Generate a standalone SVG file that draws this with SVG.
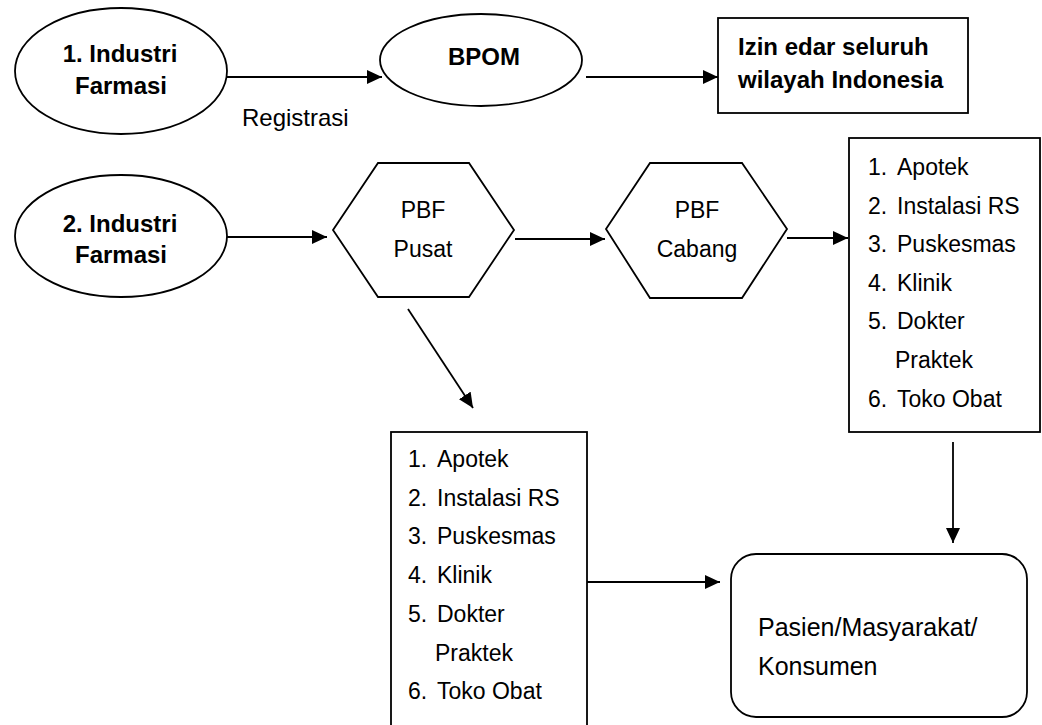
<svg xmlns="http://www.w3.org/2000/svg" width="1042" height="725" viewBox="0 0 1042 725">
<defs>
<style>
.shape{fill:#fff;stroke:#000;stroke-width:1.8}
.line{fill:none;stroke:#000;stroke-width:1.8}
.b{font-family:"Liberation Sans",Arial,sans-serif;font-weight:bold;font-size:24px;fill:#000}
.r{font-family:"Liberation Sans",Arial,sans-serif;font-size:23px;fill:#000}
.m{text-anchor:middle}
</style>
<marker id="ah" markerUnits="userSpaceOnUse" markerWidth="16" markerHeight="14" refX="15" refY="7" orient="auto">
<path d="M0,0 L15,7 L0,14 z" fill="#000"/>
</marker>
</defs>
<rect width="1042" height="725" fill="#fff"/>
<g id="connectors">
<line class="line" x1="227" y1="77" x2="382" y2="77" marker-end="url(#ah)"/>
<line class="line" x1="586" y1="77" x2="718" y2="77" marker-end="url(#ah)"/>
<line class="line" x1="227" y1="237" x2="327" y2="237" marker-end="url(#ah)"/>
<line class="line" x1="515" y1="239" x2="605" y2="239" marker-end="url(#ah)"/>
<line class="line" x1="787" y1="238" x2="848" y2="238" marker-end="url(#ah)"/>
<line class="line" x1="408" y1="309" x2="473" y2="408" marker-end="url(#ah)"/>
<line class="line" x1="587" y1="582" x2="720" y2="582" marker-end="url(#ah)"/>
<line class="line" x1="953" y1="442" x2="953" y2="543" marker-end="url(#ah)"/>
<text class="r" x="242" y="126" style="font-size:24px">Registrasi</text>
</g>
<g id="industri1">
<ellipse class="shape" cx="121" cy="71" rx="106" ry="63"/>
<text class="b m" x="120" y="62">1. Industri</text>
<text class="b m" x="121" y="94">Farmasi</text>
</g>
<g id="bpom">
<ellipse class="shape" cx="481" cy="60" rx="101" ry="46"/>
<text class="b m" x="484" y="65">BPOM</text>
</g>
<g id="izin">
<rect class="shape" x="718" y="18" width="250" height="95"/>
<text class="b" x="738" y="55">Izin edar seluruh</text>
<text class="b" x="738" y="88">wilayah Indonesia</text>
</g>
<g id="industri2">
<ellipse class="shape" cx="121" cy="236" rx="106" ry="61"/>
<text class="b m" x="120" y="232">2. Industri</text>
<text class="b m" x="121" y="263">Farmasi</text>
</g>
<g id="pbf-pusat">
<polygon class="shape" points="333,230 378,163 469,163 514,230 469,297 378,297"/>
<text class="r m" x="423" y="218">PBF</text>
<text class="r m" x="423" y="257">Pusat</text>
</g>
<g id="pbf-cabang">
<polygon class="shape" points="606,229 650,163 742,163 787,229 742,298 650,298"/>
<text class="r m" x="697" y="218">PBF</text>
<text class="r m" x="697" y="257">Cabang</text>
</g>
<g id="list-cabang">
<rect class="shape" x="849" y="138" width="191" height="294"/>
<text class="r"><tspan x="868" y="175">1.</tspan><tspan x="897" y="175">Apotek</tspan></text>
<text class="r"><tspan x="868" y="214">2.</tspan><tspan x="897" y="214">Instalasi RS</tspan></text>
<text class="r"><tspan x="868" y="252">3.</tspan><tspan x="897" y="252">Puskesmas</tspan></text>
<text class="r"><tspan x="868" y="291">4.</tspan><tspan x="897" y="291">Klinik</tspan></text>
<text class="r"><tspan x="868" y="329">5.</tspan><tspan x="897" y="329">Dokter</tspan></text>
<text class="r" x="895" y="368">Praktek</text>
<text class="r"><tspan x="868" y="407">6.</tspan><tspan x="897" y="407">Toko Obat</tspan></text>
</g>
<g id="list-pusat">
<rect class="shape" x="391" y="432" width="196" height="310"/>
<text class="r"><tspan x="408" y="467">1.</tspan><tspan x="437" y="467">Apotek</tspan></text>
<text class="r"><tspan x="408" y="506">2.</tspan><tspan x="437" y="506">Instalasi RS</tspan></text>
<text class="r"><tspan x="408" y="544">3.</tspan><tspan x="437" y="544">Puskesmas</tspan></text>
<text class="r"><tspan x="408" y="583">4.</tspan><tspan x="437" y="583">Klinik</tspan></text>
<text class="r"><tspan x="408" y="622">5.</tspan><tspan x="437" y="622">Dokter</tspan></text>
<text class="r" x="435" y="661">Praktek</text>
<text class="r"><tspan x="408" y="699">6.</tspan><tspan x="437" y="699">Toko Obat</tspan></text>
</g>
<g id="pasien">
<rect class="shape" x="731" y="554" width="296" height="163" rx="25" ry="25"/>
<text class="r" x="758" y="636" style="font-size:25px">Pasien/Masyarakat/</text>
<text class="r" x="758" y="675" style="font-size:25px">Konsumen</text>
</g>
</svg>
